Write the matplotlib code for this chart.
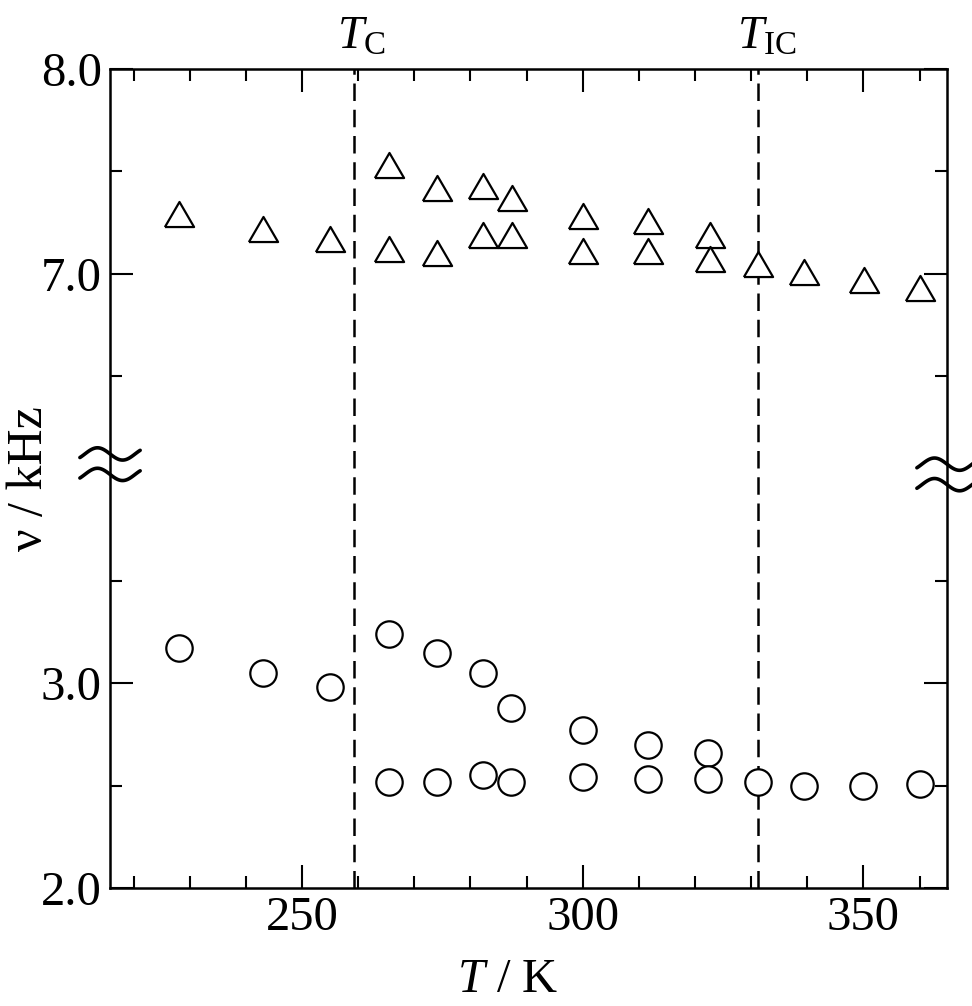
import numpy as np
import matplotlib
matplotlib.use('Agg')
import matplotlib.pyplot as plt
from matplotlib.ticker import FixedLocator
from matplotlib.transforms import blended_transform_factory

# 数据 (T / K, ν / kHz)
temp_tri = [228, 243, 255, 265.5, 265.5, 274, 274, 282.2, 282.2, 287.4, 287.4,
            300, 300, 311.6, 311.6, 322.6, 322.6, 331.2, 339.5, 350.2, 360]
nu_tri = [7.29, 7.22, 7.17, 7.53, 7.12, 7.42, 7.10, 7.43, 7.19, 7.37, 7.19,
          7.28, 7.11, 7.26, 7.11, 7.19, 7.07, 7.05, 7.01, 6.97, 6.93]

temp_circ = [228, 243, 255, 265.5, 265.5, 274, 274, 282.2, 282.2, 287.2, 287.2,
             300, 300, 311.6, 311.6, 322.4, 322.4, 331.3, 339.5, 350, 360]
nu_circ = [3.17, 3.05, 2.98, 3.24, 2.52, 3.15, 2.52, 3.05, 2.55, 2.88, 2.52,
           2.77, 2.54, 2.70, 2.53, 2.66, 2.53, 2.52, 2.50, 2.50, 2.51]

t_c = 259.2
t_ic = 331.3

y_ticks = [2.0, 3.0, 7.0, 8.0]
y_minor = [2.5, 3.5, 6.5, 7.5]
x_ticks = [250, 300, 350]
x_minor = list(range(220, 370, 10))

# 纵轴断开: 上段整体下移
shift = 2.0


def disp(v):
    v = np.asarray(v, dtype=float)
    return np.where(v > 5.0, v - shift, v)


plt.rcParams['font.family'] = ['Liberation Serif', 'DejaVu Serif']
plt.rcParams['mathtext.fontset'] = 'custom'
plt.rcParams['mathtext.rm'] = 'Liberation Serif'
plt.rcParams['mathtext.it'] = 'Liberation Serif:italic'

fig = plt.figure(figsize=(9.72, 10.06), dpi=100)
ax = fig.add_axes([0.1132, 0.1173, 0.8611, 0.8141])

# 三角形标记 (略扁)
tri = [(-1, -0.86), (1, -0.86), (0, 0.86), (-1, -0.86)]
ax.plot(temp_tri, disp(nu_tri), linestyle='none', marker=tri, markersize=21,
        markerfacecolor='white', markeredgecolor='black', markeredgewidth=1.6)
ax.plot(temp_circ, disp(nu_circ), linestyle='none', marker='o', markersize=19,
        markerfacecolor='white', markeredgecolor='black', markeredgewidth=1.6)

# 相变温度虚线
for t in (t_c, t_ic):
    ax.axvline(t, color='black', linestyle=(0, (7, 3.5)), linewidth=1.8, zorder=1)

ax.set_xlim(215.8, 364.9)
ax.set_ylim(2.0, 8.0 - shift)

ax.xaxis.set_major_locator(FixedLocator(x_ticks))
ax.xaxis.set_minor_locator(FixedLocator(x_minor))
ax.yaxis.set_major_locator(FixedLocator(disp(y_ticks)))
ax.yaxis.set_minor_locator(FixedLocator(disp(y_minor)))
ax.set_yticklabels(['%.1f' % v for v in y_ticks])

ax.tick_params(which='both', direction='in', top=True, right=True,
               labelsize=35, width=1.5, pad=6)
ax.tick_params(which='major', length=16.5)
ax.tick_params(which='minor', length=8.5)
for s in ax.spines.values():
    s.set_linewidth(1.8)

# 添加坐标轴标签
ax.set_xlabel(r'$T$ / K', fontsize=35)
ax.set_ylabel(r'ν / kHz', fontsize=36)
ax.xaxis.set_label_coords(0.475, -0.086)
ax.yaxis.set_label_coords(-0.068, 0.5)

# 顶部标注
tr = blended_transform_factory(ax.transData, ax.transAxes)
ax.text(t_c + 1.3, 1.012, r'$T_\mathrm{C}$', transform=tr, ha='center',
        va='bottom', fontsize=34)
ax.text(t_ic + 1.5, 1.012, r'$T_\mathrm{IC}$', transform=tr, ha='center',
        va='bottom', fontsize=34)

# 断轴符号
tb = blended_transform_factory(ax.transAxes, ax.transData)
s = np.linspace(-0.1, 1.1, 60)
for xc, yc in ((0.0, 4.07), (1.0, 4.02)):
    for dy in (0.05, -0.05):
        xs = xc - 0.036 + 0.072 * (s + 0.1) / 1.2
        ys = yc + dy + 0.03 * np.sin(2 * np.pi * s)
        ax.plot(xs, ys, color='black', linewidth=2.6, transform=tb,
                clip_on=False, solid_capstyle='round')

fig.savefig('out.png', dpi=100)
